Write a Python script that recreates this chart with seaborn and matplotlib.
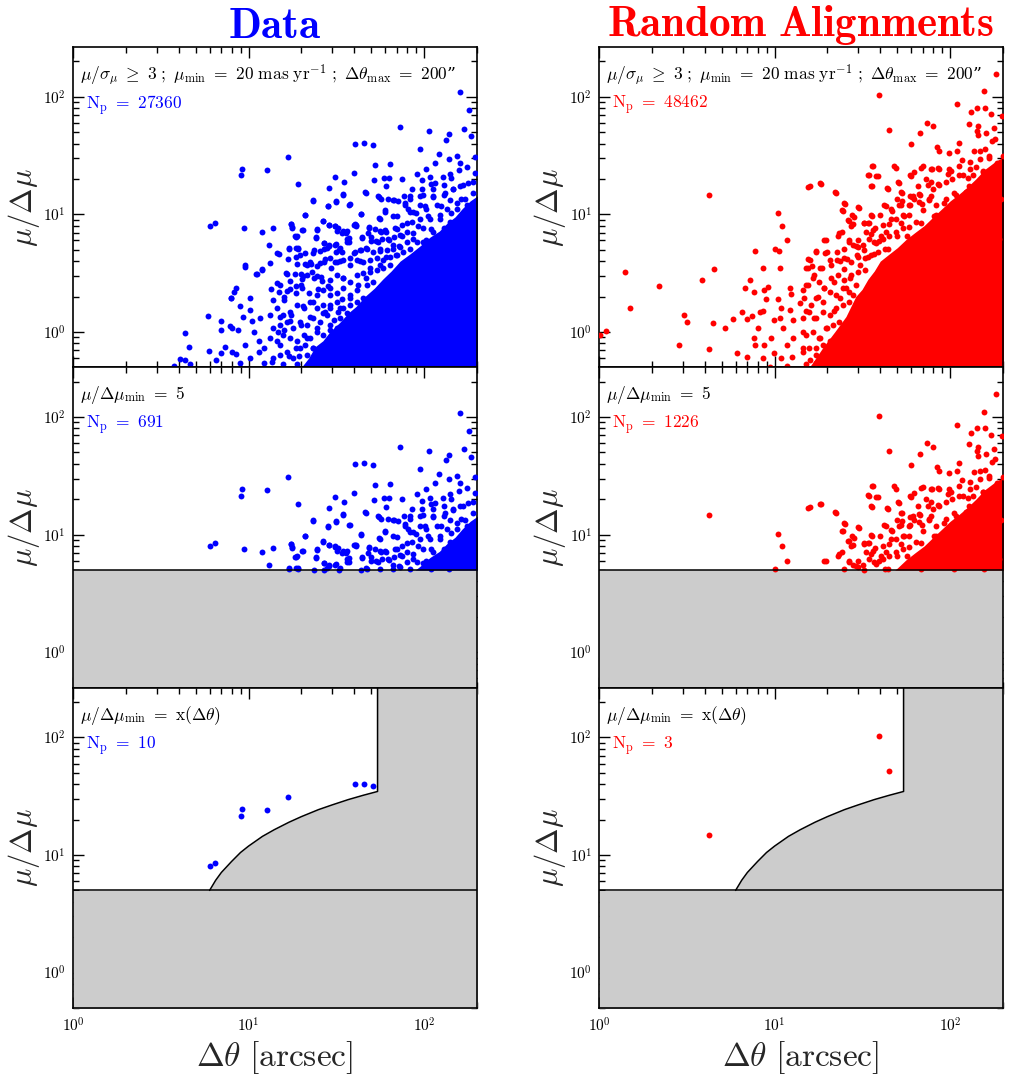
"""
Proper-motion pairs: mu/dmu against separation, data vs random alignments,
for three successive selection cuts.
"""
import matplotlib

matplotlib.use("Agg")
import matplotlib.pyplot as plt
import numpy as np
import pandas as pd
import seaborn as sns

# ---- data: real pairs (x = separation [arcsec], y = mu/dmu) ----
# pairs above mu/dmu = 5
DATA_HIGH = [
    (161, 109), (180, 76.7), (168, 53), (184, 46), (72.8, 55.4), (106, 51.3),
    (139, 48), (133, 43), (40.4, 39.8), (45.4, 40.3), (51, 38.8), (94.4, 36.1),
    (16.7, 30.9), (9.2, 24.5), (9.0, 21.4), (12.7, 24), (64, 27), (52.7, 26.3),
    (122, 32.6), (153, 31.3), (116, 27.3), (139, 29.5), (161, 27.5), (195, 31),
    (31.2, 20.8), (19.2, 18.2), (35.1, 18.9), (39.8, 22.5), (52, 19.6),
    (59, 20.4), (63, 20.4), (75, 20), (91, 22), (102, 24.3), (28.7, 16.9),
    (34.7, 14.7), (46.4, 15.2), (23.4, 13.0), (28.5, 11.7), (31.6, 12.8),
    (37.5, 12.1), (21.1, 9.8), (43.9, 10), (56, 9.2), (59.5, 10.5), (55, 14),
    (71, 13), (6.0, 8.0), (6.4, 8.5), (9.4, 7.6), (11.9, 7.1), (13.8, 7.7),
    (13, 5.5), (17.5, 8.3), (17.6, 7.7), (18.7, 6.4), (20.3, 7.3), (17.1, 5.1),
    (19.1, 5.2), (24.4, 7.4), (24.3, 6.3), (26.7, 8.7), (28.8, 8.1),
    (31.2, 7.9), (32, 7.2), (34, 7.0), (36, 7.0), (27, 5.7), (28.7, 5.4),
    (31.2, 5.5), (33.3, 5.2), (27, 5.05), (36.2, 5.8), (37.5, 6.35),
    (39.8, 8.1), (41, 8.1), (44, 6.3), (43.6, 5.02), (46.4, 5.2), (48.8, 7.7),
    (48, 7.0), (50, 5.95), (54.8, 5.8), (56.5, 7.1), (60, 7.3), (66.7, 13.2),
    (83, 14.3), (78, 12.4), (83, 10.5), (90, 10.2), (97.5, 16.5), (108, 20.7),
    (115, 18.5), (128, 20.7), (140, 22.2), (143, 20.2), (175, 25.1),
    (158, 23.7), (69.7, 7.5), (74.5, 6.56), (79.4, 8.5), (86.6, 6.15),
    (92.5, 7.97), (98.7, 5.76), (101, 11.8), (105, 9.7), (110, 7.5),
    (112, 14.3), (117, 5.4), (123, 9.1), (125, 11.8), (131, 15.2), (134, 7.0),
    (143, 10.3), (146, 16.3), (153, 12.6), (160, 17.4), (163, 8.5),
    (170, 13.4), (178, 18.5), (182, 11.0), (190, 15.2), (194, 22.5),
    (66.7, 9.7), (62.4, 6.15), (83, 5.06), (94.4, 14.3), (167, 5.76),
    (183, 6.56), (139, 5.06), (109, 5.06), (66.7, 5.06), (72, 5.4),
]
# pairs below mu/dmu = 5, outside the dense core
DATA_LOW = [
    (3.78, 0.51), (4.08, 0.59), (4.36, 0.575), (4.36, 0.97), (4.6, 0.74),
    (4.65, 0.53), (5.9, 1.36), (5.95, 0.69), (6.96, 1.23), (6.96, 1.03),
    (6.55, 0.575), (7.0, 0.66), (7.36, 0.746), (7.83, 1.12), (7.96, 1.95),
    (9.6, 3.7), (11.2, 3.1), (11.9, 3.35), (13.2, 3.85), (14.6, 4.7),
    (19.6, 4.5), (21.4, 3.7), (16.5, 3.1), (18.4, 3.1), (20, 2.5), (8.5, 2.35),
    (8.3, 2.2), (7.9, 1.93), (10.2, 1.93), (13.5, 2.3), (13.8, 1.87),
    (15.9, 1.87), (17.2, 2.3), (15.1, 2.5), (24.5, 3), (25.4, 3.85),
    (23.3, 4.7), (31.5, 4.8), (40.5, 4.8), (55.8, 4.9), (29.5, 3.47), (33, 4),
    (37.7, 3.7), (43, 4), (34.5, 2.85), (29, 2.35), (24.8, 2.3), (23.3, 1.8),
    (20.5, 1.65), (17.5, 1.4), (15.1, 1.35), (13.2, 1.4), (11.6, 1.31),
    (10.2, 1.55), (8.9, 1.65), (9.3, 1.35), (10.4, 1.23), (8.1, 1.08),
    (8.7, 1.04), (10.8, 1.0), (13.8, 1.08), (15.9, 1.04), (17.2, 1.23),
    (20, 1.15), (22.3, 1.35), (26.5, 1.45), (13.2, 0.885), (11.4, 0.84),
    (9.6, 0.77), (12.3, 0.73), (15.1, 0.77), (16.9, 0.63), (18.6, 0.73),
    (8.5, 0.65), (10.2, 0.6), (13.8, 0.6), (12.3, 0.545), (8.9, 0.545),
    (21.4, 0.885), (23.3, 0.73), (24.5, 1.08), (29, 1.15), (33, 1.59),
    (37.7, 1.93), (29, 1.7), (42, 2.5), (46.5, 2.85), (49, 3.47), (55.8, 3.7),
    (61, 4.3), (69, 4.5), (20.2, 2.83), (23, 3.22), (28.5, 2.48), (27.3, 1.48),
    (21, 0.77), (19.3, 0.63), (25, 0.68), (31, 0.88), (34, 1.92), (32.5, 1.48),
    (11.4, 0.68), (13.6, 0.56), (8.06, 0.68), (14.8, 1.0), (9.6, 3.56),
    (11, 3.12), (12, 3.4), (16.7, 4.18), (22.5, 3.92), (27.3, 4.18), (31, 3.92),
]
# crowded band just above the dense core
DATA_BAND = [
    (46.1, 15.5), (60.5, 17.3), (85, 16.5), (97.3, 19.5), (109, 18.2),
    (113, 16.5), (129, 17.6), (147, 16.5), (167, 17.6), (191, 18.8),
    (23.3, 13.3), (31.5, 13.0), (34.6, 14.9), (37.6, 12.2), (54.7, 14.3),
    (56.6, 13.6), (62.6, 13.6), (67.4, 13.3), (77.2, 14.3), (83.2, 13.6),
    (99, 14.7), (113, 14.0), (129, 14.5), (141, 13.2), (163, 13.6), (21, 9.8),
    (28.4, 11.8), (43.8, 10.1), (55.6, 9.3), (59.6, 10.8), (69.8, 9.6),
    (77.9, 11.9), (81.4, 11.2), (86.9, 10.5), (94.8, 11.9), (103, 11.2),
    (118, 11.9), (135, 11.2), (153, 11.2), (175, 11.9), (17.5, 8.3),
    (17.7, 7.8), (24.6, 7.5), (26.6, 8.8), (28.9, 8.1), (31.1, 8.0),
    (32.4, 7.7), (34.3, 7.2), (36.6, 7.2), (40.3, 8.2), (41.0, 8.0),
    (48.3, 7.8), (52.5, 7.5), (56.3, 7.2), (60.5, 7.1), (68.3, 7.6),
    (74.5, 8.07), (85, 8.6), (94.8, 9.2), (108, 9.2), (123, 9.8), (141, 8.6),
    (18.3, 6.5), (18.9, 6.6), (20.2, 7.3), (24.2, 6.4), (26.8, 5.7),
    (28.9, 5.5), (31.3, 5.6), (36.2, 6.15), (37.1, 5.83), (44.3, 6.4),
    (49.9, 6.4), (53.4, 5.95), (57.9, 6.2), (63.3, 6.1), (67.4, 6.4),
    (72.9, 6.65), (79.6, 7.1), (86.9, 6.9), (99, 7.6), (113, 7.1), (129, 7.6),
    (14.9, 4.6), (16.9, 5.2), (18.6, 5.2), (19.2, 5.1), (20.9, 4.7),
    (23.6, 5.0), (25.6, 4.9), (27.9, 5.2), (32.6, 5.0), (34.1, 4.8),
    (39.9, 4.7), (43.2, 4.96), (47.1, 5.1), (51.4, 4.8), (56.1, 5.1),
    (61.2, 4.96), (66.8, 5.5), (72.9, 5.3), (79.6, 5.83), (90.7, 5.83),
    (103, 6.0), (16.4, 3.2), (18.6, 4.3), (19.0, 3.75), (21.1, 3.8),
    (22.6, 3.8), (24.6, 3.65), (26.8, 3.95), (29.2, 4.21), (32.1, 3.95),
    (34.7, 4.1), (37.9, 4.21), (41.3, 4.1), (45.1, 3.95), (49.2, 4.1),
    (53.7, 4.21), (58.6, 4.1), (64, 4.35), (69.8, 4.5), (76.2, 4.8),
    (14.6, 2.59), (16.5, 2.23), (17.2, 2.71), (18.6, 2.47), (20.0, 3.08),
    (20.4, 2.98), (21.6, 3.03), (23.7, 2.85), (25.7, 2.94), (26.2, 2.73),
    (29.2, 2.76), (31.8, 3.05), (34.7, 2.85), (37.9, 2.67), (41.3, 3.05),
    (45.1, 3.15), (49.2, 3.25), (53.7, 3.36), (58.6, 3.47), (64, 3.7),
    (15.0, 2.2), (16.0, 2.0), (18.6, 2.13), (20.1, 2.35), (22.2, 2.16),
    (24.5, 2.06), (26.7, 2.27), (29.2, 2.06), (31.8, 2.13), (34.7, 2.35),
    (37.9, 2.06), (41.3, 2.27), (47.1, 2.5), (51.4, 2.67), (14.5, 1.59),
    (15.8, 1.40), (17.3, 1.49), (18.8, 1.69), (20.6, 1.59), (22.4, 1.81),
    (24.5, 1.59), (26.7, 1.69), (29.2, 1.59), (31.8, 1.81), (34.7, 1.59),
    (37.9, 1.69), (41.3, 1.81), (45.1, 1.93), (15.1, 1.15), (16.5, 1.22),
    (18.0, 1.08), (19.7, 1.22), (21.5, 1.15), (23.4, 1.31), (25.6, 1.22),
    (27.9, 1.40), (30.5, 1.27), (33.3, 1.31), (36.3, 1.44), (39.6, 1.22),
    (14.5, 0.83), (15.8, 0.94), (17.3, 0.885), (18.8, 0.83), (20.6, 0.94),
    (22.4, 0.885), (24.5, 1.0), (26.7, 0.94), (29.2, 1.04), (31.8, 1.08),
    (15.1, 0.64), (16.5, 0.68), (18.0, 0.60), (19.7, 0.73), (21.5, 0.64),
    (23.4, 0.73), (15.8, 0.53), (18.8, 0.53),
]
# upper edge of the visually solid core of points
DATA_CORE_X = [18, 20, 22, 24, 26.5, 29, 33, 37, 41, 46, 52, 58, 65, 73, 83,
               95, 108, 122, 136, 150, 165, 183, 210]
DATA_CORE_TOP = [0.45, 0.5, 0.6, 0.75, 0.84, 1.0, 1.2, 1.45, 1.65, 2.0, 2.35,
                 2.8, 3.3, 4.0, 4.6, 5.4, 6.4, 7.2, 8.5, 9.5, 11.2, 13, 15]

# ---- random alignments ----
RAND_HIGH = [
    (183, 157), (156, 111), (39.4, 103), (110, 86), (143, 80), (158, 80),
    (132, 73.7), (172, 71), (197, 69), (74, 60.3), (80, 56), (128, 58.7),
    (144, 56), (143, 51), (161, 49), (178, 53.7), (44.9, 51.9), (67.7, 49),
    (144, 47), (174, 41.7), (180, 43.6), (60, 39.5), (84, 37.3), (86, 34.7),
    (98, 33.2), (109, 34.7), (112, 40.3), (136, 34.4), (147, 34.7),
    (157, 35.6), (166, 30.3), (117, 29), (130, 24.5), (141, 25.3), (153, 23.2),
    (185, 27.3), (36.4, 25.8), (49.2, 24.6), (62.6, 22.8), (70, 25.6),
    (79, 24.4), (86, 24.4), (34.5, 21.5), (38.8, 21.1), (60, 21.1), (97, 22.2),
    (101, 23.2), (112, 21.5), (126, 20.4), (15.9, 17.3), (18.4, 18.2),
    (4.26, 14.7), (22.4, 15.2), (35.9, 17.3), (51.4, 18.5), (44.3, 16.5),
    (53.5, 15.2), (59, 14.2), (67, 14.7), (74.7, 17.7), (78, 18.9), (85, 18),
    (25.2, 12.3), (24.6, 10.7), (30.3, 11.4), (43.1, 11.8), (52.3, 12.1),
    (46.7, 10.7), (10.4, 10.2), (11, 8.0), (11.8, 6.0), (19.6, 6.0),
    (10.1, 5.1), (23, 6.6), (26.7, 8.8), (28.3, 9.4), (27.3, 8.0), (25, 5.1),
    (26.6, 6.0), (29.2, 5.4), (32.3, 8.4), (34.5, 8.5), (35.9, 9.7),
    (37.1, 7.7), (35.3, 6.8), (36.8, 5.8), (32.3, 5.02), (30, 5.3),
    (40.6, 6.6), (39.4, 5.95), (46.3, 9.1), (52.3, 8.4), (51, 11.9), (61, 14),
    (58.8, 12), (62.3, 13.4), (69.4, 12.2), (75.4, 13.2), (44, 5.06),
    (43.1, 7.1), (57, 6.56), (62.4, 5.4), (68, 8.5), (74, 6.56), (81, 9.7),
    (81, 5.4), (88.5, 7.5), (92.5, 12.6), (96.6, 5.4), (101, 9.7),
    (105, 15.2), (108, 6.56), (115, 11.8), (120, 7.97), (126, 5.4),
    (128, 17.4), (134, 11), (137, 7.0), (143, 14.3), (150, 9.1), (153, 5.57),
    (160, 18.5), (163, 11.8), (171, 7.5), (174, 15.2), (182, 9.7), (186, 21.1),
    (190, 6.15), (194, 13.4), (199, 31.1), (54.7, 9.7), (50, 6.56),
    (68, 5.06), (105, 5.06), (156, 5.06), (50, 13.4), (77.6, 14.3),
    (65.2, 17.4),
]
RAND_LOW = [
    (1.09, 1.02), (1.02, 0.94), (1.4, 3.22), (1.5, 1.61), (2.19, 2.48),
    (3.05, 1.40), (3.17, 1.22), (2.85, 0.77), (3.88, 2.74), (4.54, 3.4),
    (4.48, 1.18), (4.25, 0.71), (5.2, 1.09), (5.8, 1.28), (6.5, 1.47),
    (6.1, 0.66), (6.95, 1.3), (7.4, 1.37), (6.95, 0.61), (7.6, 0.885),
    (7.75, 0.78), (8.25, 1.47), (8.6, 1.5), (8.1, 1.09), (6.8, 2.35),
    (7.2, 2.75), (7.6, 2.2), (7.7, 4.85), (8.6, 3.5), (8.7, 2.25), (8.9, 1.9),
    (9.2, 2.4), (10.6, 4.85), (10.7, 3.47), (10.5, 1.9), (9.9, 1.26),
    (8.7, 0.78), (8.6, 0.6), (9.6, 0.885), (10.9, 1.59), (12.2, 2.35),
    (12.4, 2.1), (12.2, 1.55), (10.7, 1.31), (11.2, 1.09), (9.9, 0.66),
    (10.9, 0.6), (11.7, 0.77), (12.8, 1.26), (13.9, 1.75), (14.5, 2.25),
    (15.5, 2.5), (15.2, 3.47), (15.5, 4.2), (17.3, 4.8), (16.3, 3.6),
    (16.7, 3.05), (18.1, 3.47), (19.9, 4.8), (20.6, 4.1), (22.6, 4.8),
    (23.5, 4), (24.9, 3.4), (26, 4.2), (29.5, 4.5), (30.6, 3.7), (21.9, 2.65),
    (19, 2.35), (17.3, 1.93), (15.2, 1.5), (16.7, 1.31), (14.5, 1.0),
    (12.8, 0.885), (14.5, 0.73), (12.6, 0.61), (15.9, 0.58), (18.1, 0.885),
    (17.3, 0.73), (19.9, 1.08), (21.9, 1.5), (23.5, 1.93), (25.5, 2.35),
    (26.8, 2.85), (28, 2.05), (19.9, 0.61), (22.6, 0.82), (24.5, 1.08),
    (25.5, 0.73), (11.7, 0.51), (9.4, 0.5), (34, 4.3), (37, 4.6),
]
RAND_BAND = [
    (35.8, 26.0), (33.9, 21.8), (37.9, 21.1), (48.1, 25.7), (59.4, 21.4),
    (68.0, 24.9), (78.2, 24.5), (85.4, 24.9), (99, 24.4), (113, 26),
    (129, 27.8), (147, 29.6), (167, 31.6), (15.5, 17.0), (18.2, 18.3),
    (22.1, 15.5), (35.5, 17.5), (43.8, 16.8), (50.7, 18.8), (52.8, 15.4),
    (61.2, 14.3), (66.8, 15.0), (72.9, 20.1), (79.6, 16.5), (86.9, 17.6),
    (94.8, 18.8), (103, 20.1), (118, 21.4), (135, 21.4), (153, 22.9),
    (25.0, 12.5), (24.3, 10.8), (30.0, 11.6), (35.5, 9.9), (41.8, 12.1),
    (46.3, 11.0), (53, 13.0), (58.6, 11.9), (66.8, 12.7), (69.8, 10.8),
    (76.2, 13.6), (83.2, 11.9), (94.8, 13.6), (108, 14.5), (123, 15.5),
    (141, 15.5), (160, 16.5), (26.2, 8.9), (27.9, 8.2), (32.2, 8.5),
    (34.0, 8.5), (39.6, 9.8), (27.7, 9.8), (23.3, 6.9), (24.3, 7.1),
    (33.3, 7.1), (36.3, 7.3), (41.3, 8.07), (45.1, 8.3), (49.2, 9.2),
    (53.7, 9.8), (58.6, 9.8), (64, 8.6), (83.2, 9.8), (19.2, 6.0),
    (17.3, 4.9), (19.3, 4.7), (26.5, 5.83), (27.9, 5.5), (30.0, 6.0),
    (31.8, 5.5), (34.7, 6.2), (37.9, 5.65), (41.3, 6.2), (45.1, 6.6),
    (49.2, 7.1), (53.7, 7.6), (58.6, 7.8), (15.5, 3.47), (16.0, 4.1),
    (18.6, 3.47), (21.0, 3.7), (22.6, 4.1), (25.0, 4.21), (27.3, 3.95),
    (30.0, 4.35), (32.6, 4.21), (35.5, 4.5), (38.8, 4.8), (42.3, 5.1),
    (15.1, 2.5), (16.5, 2.85), (18.0, 2.67), (19.2, 2.35), (21.0, 2.85),
    (22.9, 3.05), (25.0, 2.76), (27.3, 3.05), (30.0, 3.25), (32.6, 3.36),
    (14.8, 1.93), (16.2, 1.69), (17.6, 2.0), (18.8, 1.81), (20.6, 2.20),
    (22.4, 2.06), (24.5, 2.35), (26.7, 2.20), (29.2, 2.5), (14.5, 1.31),
    (15.8, 1.49), (17.3, 1.31), (18.8, 1.49), (20.6, 1.40), (22.4, 1.59),
    (24.5, 1.69), (26.7, 1.81), (15.1, 0.94), (16.5, 1.0), (18.0, 0.885),
    (19.7, 1.07), (21.5, 1.15), (23.4, 1.22), (14.5, 0.68), (15.8, 0.73),
    (17.3, 0.64), (18.8, 0.78), (20.6, 0.83), (15.1, 0.53), (17.3, 0.54),
    (19.7, 0.58),
]
RAND_CORE_X = [15, 16.5, 19, 22, 25.5, 29, 31.5, 34, 37, 40, 45, 50, 56, 63,
               71, 80, 90, 100, 112, 125, 140, 157, 180, 210]
RAND_CORE_TOP = [0.45, 0.55, 0.75, 1.0, 1.35, 2.0, 2.3, 2.8, 3.3, 4.0, 4.6,
                 5.2, 6.1, 7.0, 8.0, 9.5, 11.2, 13, 14.8, 17, 20, 24, 28, 32]

# selection threshold x(dtheta) of the bottom row
CUT_X = [6, 6.5, 7, 8, 9, 10, 12, 14, 17, 20, 25, 30, 37, 45, 54.3]
CUT_Y = [5, 6.1, 7.1, 8.8, 10.5, 11.9, 14.4, 16.4, 19.0, 21.2, 24.3, 26.7,
         29.6, 32.2, 34.7]
MU_MIN = 5

COUNTS = {"data": [27360, 691, 10], "rand": [48462, 1226, 3]}
TITLES = {"data": r"$\mathbf{Data}$", "rand": r"$\mathbf{Random\ Alignments}$"}
COLORS = {"data": "#0000ff", "rand": "#ff0000"}
ROW_TEXT = [
    r"$\mu/\sigma_\mu\ \geq\ 3\ ;\ \mu_{\rm min}\ =\ 20\ {\rm mas\ yr^{-1}}"
    r"\ ;\ \Delta\theta_{\rm max}\ =\ 200$”",
    r"$\mu/\Delta\mu_{\rm min}\ =\ 5$",
    r"$\mu/\Delta\mu_{\rm min}\ =\ {\rm x}(\Delta\theta)$",
]
MAJOR_TICKS = [1, 10, 100]
TICK_LABELS = [r"$10^{0}$", r"$10^{1}$", r"$10^{2}$"]

XLIM = (1, 200)
YLIM = (0.5, 265)
GREY = "#cccccc"

sns.set_theme(style="ticks")
plt.rcParams["font.family"] = ["DejaVu Serif"]
plt.rcParams["mathtext.fontset"] = "cm"
plt.rcParams["axes.linewidth"] = 1.2


def to_frame(pairs):
    """pairs -> dataframe with sep / ratio columns"""
    return pd.DataFrame(pairs, columns=["sep", "ratio"])


def cut_threshold(sep):
    """mu/dmu needed to survive the separation-dependent cut"""
    sep = np.asarray(sep, dtype=float)
    thr = np.interp(np.log10(sep), np.log10(CUT_X), CUT_Y)
    thr = np.where(sep < CUT_X[0], MU_MIN, thr)
    return np.where(sep > CUT_X[-1], np.inf, thr)


def style_axis(ax, bottom_row):
    """log axes, inward ticks on all four sides"""
    ax.set_xscale("log")
    ax.set_yscale("log")
    ax.set_xlim(*XLIM)
    ax.set_ylim(*YLIM)
    ax.set_xticks(MAJOR_TICKS, TICK_LABELS)
    ax.set_yticks(MAJOR_TICKS, TICK_LABELS)
    ax.xaxis.set_minor_formatter(matplotlib.ticker.NullFormatter())
    ax.yaxis.set_minor_formatter(matplotlib.ticker.NullFormatter())
    ax.tick_params(which="both", direction="in", top=True, right=True,
                   width=1, labelsize=11, colors="black")
    ax.tick_params(which="major", length=8)
    ax.tick_params(which="minor", length=4.5)
    ax.tick_params(axis="y", pad=5)
    ax.tick_params(axis="x", pad=6, labelbottom=bottom_row)
    ax.set_ylabel(r"$\mu/\Delta\mu$", fontsize=22, labelpad=1)
    if bottom_row:
        ax.set_xlabel(r"$\Delta\theta\ [{\rm arcsec}]$", fontsize=24,
                      labelpad=3)
    else:
        ax.set_xlabel("")
    for spine in ax.spines.values():
        spine.set_color("black")


def scatter(ax, df, color):
    sns.scatterplot(data=df, x="sep", y="ratio", ax=ax, color=color, s=18,
                    linewidth=0, legend=False, zorder=3)


def draw_column(axes_col, key, pairs, core_x, core_top):
    color = COLORS[key]
    pts = to_frame(pairs)
    core_x = np.array(core_x, dtype=float)
    core_top = np.array(core_top, dtype=float)

    # row 1: everything
    ax = axes_col[0]
    scatter(ax, pts, color)
    ax.fill_between(core_x, 0.3, core_top, color=color, lw=0, zorder=2)

    # row 2: constant cut
    ax = axes_col[1]
    scatter(ax, pts[pts.ratio >= MU_MIN], color)
    ax.fill_between(core_x, MU_MIN, core_top, where=core_top >= MU_MIN,
                    interpolate=True, color=color, lw=0, zorder=2)
    ax.axhspan(0.3, MU_MIN, color=GREY, lw=0, zorder=1)
    ax.axhline(MU_MIN, color="black", lw=1.1, zorder=4)

    # row 3: separation-dependent cut
    ax = axes_col[2]
    keep = pts.ratio.values > cut_threshold(pts.sep.values)
    scatter(ax, pts[keep], color)
    edge_x = [XLIM[0]] + CUT_X + [CUT_X[-1], XLIM[1] * 1.1]
    edge_y = [MU_MIN] + CUT_Y + [YLIM[1] * 1.2, YLIM[1] * 1.2]
    ax.fill_between(edge_x, 0.3, edge_y, color=GREY, lw=0, zorder=1)
    ax.axhline(MU_MIN, color="black", lw=1.1, zorder=4)
    ax.plot(CUT_X + [CUT_X[-1]], CUT_Y + [YLIM[1] * 1.2], color="black",
            lw=1.1, zorder=4)

    for row, ax in enumerate(axes_col):
        style_axis(ax, row == 2)
        ax.text(0.018, 0.913, ROW_TEXT[row], transform=ax.transAxes,
                fontsize=12.5, va="center", ha="left", color="black")
        ax.text(0.032, 0.82, r"$\rm N_p\ =\ %d$" % COUNTS[key][row],
                transform=ax.transAxes, fontsize=12.5, va="center",
                ha="left", color=color)
    axes_col[0].set_title(TITLES[key], color=color, fontsize=31, pad=4)


fig, axes = plt.subplots(3, 2, figsize=(10.12, 10.82), dpi=100)
fig.subplots_adjust(left=0.0721, right=0.9911, top=0.9566, bottom=0.0684,
                    wspace=0.302, hspace=0)

draw_column(axes[:, 0], "data", DATA_HIGH + DATA_LOW + DATA_BAND,
            DATA_CORE_X, DATA_CORE_TOP)
draw_column(axes[:, 1], "rand", RAND_HIGH + RAND_LOW + RAND_BAND,
            RAND_CORE_X, RAND_CORE_TOP)

fig.savefig("out.png", dpi=100, facecolor="white")
